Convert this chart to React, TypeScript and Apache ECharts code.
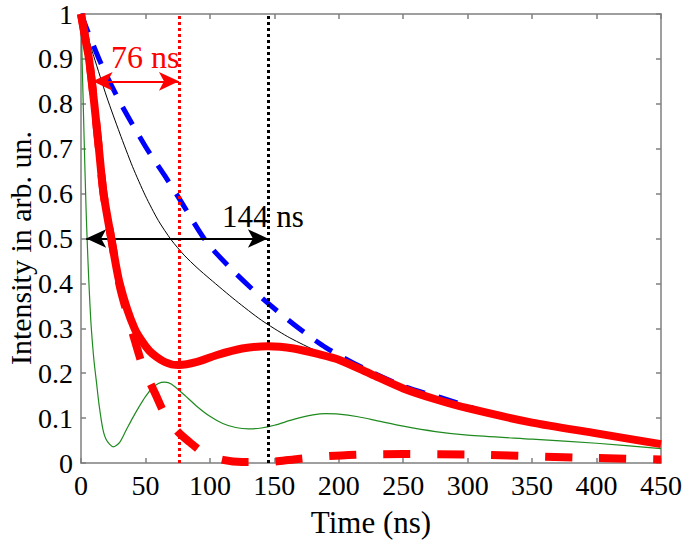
import React, { useEffect, useRef } from "react";
import * as echarts from "echarts";

// ---- data ----
const xTicks = [0, 50, 100, 150, 200, 250, 300, 350, 400, 450];
const yTickLabels = ["0", "0.1", "0.2", "0.3", "0.4", "0.5", "0.6", "0.7", "0.8", "0.9", "1"];

const blackThin: [number, number][] = [
  [0, 1], [10, 0.905], [20, 0.815], [30, 0.735], [40, 0.66], [50, 0.595], [60, 0.54],
  [70, 0.497], [80, 0.463], [90, 0.435], [100, 0.41], [120, 0.362], [140, 0.318],
  [160, 0.282], [180, 0.253], [200, 0.228], [225, 0.196], [250, 0.167], [275, 0.143],
  [300, 0.123], [350, 0.091], [400, 0.067], [450, 0.044],
];

const greenThin: [number, number][] = [
  [0, 1], [1, 0.88], [2, 0.77], [3, 0.66], [4, 0.56], [5, 0.48], [6, 0.41], [7, 0.35],
  [8, 0.3], [10, 0.23], [12, 0.18], [14, 0.13], [17, 0.075], [20, 0.05], [25, 0.036],
  [30, 0.046], [35, 0.073], [40, 0.1], [45, 0.125], [50, 0.148], [55, 0.166], [60, 0.177],
  [65, 0.18], [70, 0.176], [80, 0.152], [90, 0.126], [100, 0.104], [110, 0.088],
  [120, 0.079], [130, 0.076], [140, 0.078], [150, 0.084], [165, 0.097], [180, 0.107],
  [190, 0.11], [200, 0.109], [215, 0.103], [230, 0.094], [250, 0.082], [275, 0.07],
  [300, 0.062], [350, 0.053], [400, 0.044], [450, 0.032],
];

const blueDashed: [number, number][] = [
  [0, 1], [15, 0.893], [30, 0.805], [50, 0.705], [65, 0.64], [76, 0.59], [97, 0.494],
  [118, 0.428], [143, 0.361], [169, 0.3], [190, 0.257], [220, 0.21], [252, 0.169],
  [281, 0.144], [310, 0.117], [340, 0.095], [400, 0.066], [450, 0.042],
];

const redSolid: [number, number][] = [
  [0, 1], [3, 0.95], [6.2, 0.9], [10.3, 0.8], [13.9, 0.7], [17.5, 0.6], [23.5, 0.5],
  [30, 0.4], [41.5, 0.3], [53, 0.25], [65, 0.225], [76, 0.218], [90, 0.225], [105, 0.24],
  [125, 0.255], [145, 0.26], [165, 0.255], [185, 0.242], [200, 0.23], [225, 0.198],
  [250, 0.166], [275, 0.142], [300, 0.122], [350, 0.09], [400, 0.066], [450, 0.042],
];

const redDashed: [number, number][] = [
  [0, 1], [6.2, 0.9], [10.3, 0.8], [13.9, 0.7], [17.5, 0.6], [23.5, 0.5], [30, 0.395],
  [35, 0.34], [40, 0.29], [48, 0.215], [58, 0.152], [66, 0.103], [75, 0.07], [84, 0.047],
  [97, 0.019], [110, 0.007], [125, 0.002], [144, 0.002], [165, 0.008], [190, 0.015],
  [220, 0.019], [250, 0.02], [300, 0.019], [350, 0.015], [400, 0.011], [450, 0.008],
];

const redMarkerTime = 76;
const blackMarkerTime = 145;
const redArrow: [number, number][] = [[9, 0.85], [76, 0.85]];
const blackArrow: [number, number][] = [[4, 0.5], [145, 0.5]];
const redLabel = "76 ns";
const blackLabel = "144 ns";
const xName = "Time (ns)";
const yName = "Intensity in arb. un.";

const FONT = '"Liberation Serif", "Times New Roman", serif';
const AXIS_GRAY = "#7f7f7f";

export default function App() {
  const ref = useRef<HTMLDivElement>(null);
  useEffect(() => {
    if (!ref.current) return;
    const chart = echarts.init(ref.current, undefined, { renderer: "svg" });
    const axisCommon = {
      axisLine: { show: true, onZero: false, lineStyle: { color: AXIS_GRAY, width: 1.5 } },
      axisTick: { show: true, inside: true, length: 5, lineStyle: { color: AXIS_GRAY, width: 1.5 } },
      splitLine: { show: false },
    };
    const line = (name: string, data: [number, number][], color: string, width: number, type: any, z: number) => ({
      name,
      type: "line",
      data,
      smooth: 0.25,
      symbol: "none",
      showSymbol: false,
      z,
      lineStyle: { color, width, type, cap: "butt", join: "round" },
      emphasis: { disabled: true },
    });
    chart.setOption({
      animation: false,
      grid: { left: 81, right: 20, top: 12, bottom: 83, containLabel: false },
      xAxis: [
        {
          type: "value",
          min: 0,
          max: 450,
          interval: 50,
          position: "bottom",
          ...axisCommon,
          axisLabel: {
            color: "#000",
            fontFamily: FONT,
            fontSize: 28,
            margin: 8,
            formatter: (v: number) => (xTicks.includes(v) ? String(v) : ""),
          },
        },
        {
          type: "value",
          min: 0,
          max: 450,
          interval: 50,
          position: "top",
          ...axisCommon,
          axisLabel: { show: false },
        },
      ],
      yAxis: [
        {
          type: "value",
          min: 0,
          max: 1,
          interval: 0.1,
          position: "left",
          ...axisCommon,
          axisLabel: {
            color: "#000",
            fontFamily: FONT,
            fontSize: 28,
            margin: 8,
            formatter: (v: number) => yTickLabels[Math.round(v * 10)] ?? "",
          },
        },
        {
          type: "value",
          min: 0,
          max: 1,
          interval: 0.1,
          position: "right",
          ...axisCommon,
          axisLabel: { show: false },
        },
      ],
      series: [
        line("black", blackThin, "#000000", 1, "solid", 2),
        line("blue", blueDashed, "#0000ff", 5, [20, 14], 3),
        line("green", greenThin, "#1f8a1f", 1.2, "solid", 4),
        line("redSolid", redSolid, "#ff0000", 8, "solid", 5),
        line("redDashed", redDashed, "#ff0000", 8, [27, 27], 6),
        {
          type: "line",
          data: [],
          z: 8,
          markLine: {
            silent: true,
            symbol: ["none", "none"],
            label: { show: false },
            data: [
              { xAxis: redMarkerTime, lineStyle: { color: "#ff0000", width: 3, type: [3, 3] } },
              { xAxis: blackMarkerTime, lineStyle: { color: "#000000", width: 3, type: [3, 3] } },
            ],
          },
        },
        {
          type: "line",
          data: [],
          z: 9,
          markLine: {
            silent: true,
            symbol: ["arrow", "arrow"],
            symbolSize: [14, 20],
            label: { show: false },
            data: [
              [
                { coord: redArrow[0], lineStyle: { color: "#ff0000", width: 2, type: "solid" }, itemStyle: { color: "#ff0000" } },
                { coord: redArrow[1] },
              ],
              [
                { coord: blackArrow[0], lineStyle: { color: "#000000", width: 2, type: "solid" }, itemStyle: { color: "#000000" } },
                { coord: blackArrow[1] },
              ],
            ],
          },
        },
      ],
      graphic: [
        {
          type: "text",
          x: 111,
          y: 57,
          z: 10,
          style: { text: redLabel, fill: "#ff0000", font: `32px ${FONT}`, verticalAlign: "middle", textVerticalAlign: "middle" },
        },
        {
          type: "text",
          x: 222,
          y: 216,
          z: 10,
          style: { text: blackLabel, fill: "#000000", font: `31px ${FONT}`, verticalAlign: "middle", textVerticalAlign: "middle" },
        },
        {
          type: "text",
          x: 371,
          y: 522,
          style: { text: xName, fill: "#000", font: `31px ${FONT}`, align: "center", textAlign: "center", verticalAlign: "middle", textVerticalAlign: "middle" },
        },
        {
          type: "text",
          x: 20,
          y: 248,
          rotation: Math.PI / 2,
          style: { text: yName, fill: "#000", font: `30px ${FONT}`, align: "center", textAlign: "center", verticalAlign: "middle", textVerticalAlign: "middle" },
        },
      ],
    });
    return () => chart.dispose();
  }, []);
  return (
    <div
      ref={ref}
      style={{ position: "absolute", left: 0, top: 0, width: 685, height: 546, background: "#fff" }}
    />
  );
}
